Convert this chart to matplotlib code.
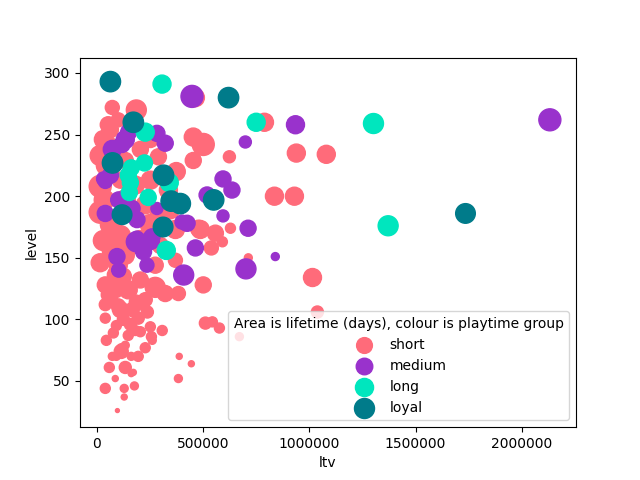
import matplotlib
matplotlib.use("Agg")
import matplotlib.pyplot as plt

groups = ["short", "medium", "long", "loyal"]
colors = ["#FF6B7A", "#9932CC", "#00E6BE", "#007B8A"]

short_ltv = [16000, 31000, 54000, 73000, 45000, 16000, 35000, 16000, 64000, 31000,
             16000, 73000, 111000, 101000, 134000, 158000, 205000, 252000, 299000, 346000,
             370000, 299000, 228000, 134000, 181000, 252000, 111000, 134000, 205000, 252000,
             101000, 186000, 290000, 337000, 374000, 384000, 454000, 501000, 454000, 478000,
             558000, 629000, 487000, 539000, 591000, 713000, 624000, 789000, 939000, 1080000,
             836000, 930000, 1015000, 1038000, 671000, 464000, 92000, 148000, 205000, 275000,
             322000, 384000, 501000, 275000, 370000, 228000, 64000, 111000, 167000, 219000,
             238000, 195000, 125000, 40000, 158000, 181000, 252000, 308000, 205000, 78000,
             45000, 148000, 257000, 115000, 134000, 228000, 115000, 73000, 92000, 162000,
             195000, 261000, 388000, 445000, 384000, 59000, 134000, 172000, 162000, 87000,
             40000, 129000, 177000, 129000, 97000, 511000, 544000, 577000, 64000, 50000,
             40000, 87000, 54000, 101000, 186000, 125000, 92000, 40000]
short_level = [233, 246, 258, 272, 225, 208, 197, 187, 177, 164,
               146, 156, 168, 144, 152, 160, 164, 177, 185, 189,
               173, 160, 193, 197, 209, 213, 213, 229, 238, 246,
               262, 270, 232, 205, 220, 193, 248, 242, 229, 174,
               170, 174, 173, 158, 163, 150, 232, 260, 235, 234,
               200, 200, 134, 106, 86, 280, 136, 124, 132, 126,
               121, 121, 128, 144, 148, 116, 116, 108, 108, 112,
               106, 101, 100, 101, 96, 91, 94, 91, 90, 89,
               83, 87, 86, 77, 79, 77, 74, 70, 70, 70,
               70, 83, 70, 64, 52, 61, 61, 57, 56, 52,
               44, 44, 46, 37, 26, 97, 98, 93, 254, 243,
               128, 124, 120, 111, 114, 135, 95, 112]
short_life = [207, 168, 133, 102, 207, 251, 207, 251, 207, 207,
              168, 207, 207, 168, 168, 168, 207, 207, 207, 168,
              168, 133, 168, 207, 168, 168, 133, 133, 133, 133,
              102, 207, 133, 168, 168, 133, 168, 251, 133, 133,
              133, 52, 168, 102, 52, 33, 75, 168, 168, 168,
              168, 168, 168, 75, 33, 168, 168, 168, 133, 207,
              133, 102, 133, 133, 102, 102, 102, 133, 102, 75,
              75, 75, 75, 52, 75, 52, 52, 52, 52, 52,
              52, 52, 52, 33, 33, 52, 102, 33, 33, 33,
              52, 33, 19, 19, 33, 52, 75, 19, 19, 19,
              52, 33, 33, 19, 8, 75, 52, 52, 133, 133,
              133, 133, 102, 102, 102, 133, 52, 75]

medium_ltv = [448000, 2132000, 935000, 699000, 594000, 636000, 519000, 594000, 712000, 425000,
              283000, 322000, 283000, 134000, 73000, 40000, 40000, 64000, 189000, 186000,
              252000, 220000, 95000, 103000, 236000, 464000, 409000, 702000, 840000, 103000,
              166000, 189000, 260000, 401000, 150000, 119000, 32000]
medium_level = [281, 262, 258, 244, 214, 205, 201, 184, 174, 178,
                190, 243, 251, 246, 238, 186, 212, 217, 181, 163,
                164, 155, 151, 140, 144, 158, 136, 141, 151, 197,
                190, 166, 167, 179, 252, 242, 214]
medium_life = [251, 251, 168, 75, 133, 133, 133, 75, 133, 133,
               75, 133, 133, 168, 168, 133, 102, 133, 133, 207,
               168, 133, 133, 102, 102, 133, 207, 207, 33, 133,
               133, 102, 133, 102, 133, 133, 102]

long_ltv = [307000, 750000, 228000, 162000, 224000, 148000, 158000, 153000, 242000, 341000,
            327000, 1302000, 1371000]
long_level = [291, 260, 252, 223, 227, 217, 211, 203, 199, 211, 156, 259, 176]
long_life = [168, 168, 168, 133, 133, 133, 133, 133, 133, 168, 168, 207, 207]

loyal_ltv = [64000, 620000, 172000, 74000, 314000, 350000, 393000, 550000, 119000, 312000, 1735000]
loyal_level = [293, 280, 260, 227, 217, 196, 194, 197, 185, 175, 186]
loyal_life = [215, 215, 215, 215, 215, 215, 215, 215, 200, 200, 200]

data = [
    (short_ltv, short_level, short_life),
    (medium_ltv, medium_level, medium_life),
    (long_ltv, long_level, long_life),
    (loyal_ltv, loyal_level, loyal_life),
]

fig, ax = plt.subplots(figsize=(6.4, 4.8), dpi=100)
for name, col, (x, y, s) in zip(groups, colors, data):
    ax.scatter(x, y, s=s, c=col, label=name)

ax.set_xlim(-79000, 2255000)
ax.set_ylim(12.5, 312.5)
ax.ticklabel_format(style="plain", axis="x")
ax.set_xlabel("ltv")
ax.set_ylabel("level")
ax.legend(title="Area is lifetime (days), colour is playtime group", loc="lower right")
fig.savefig("out.png", dpi=100)
